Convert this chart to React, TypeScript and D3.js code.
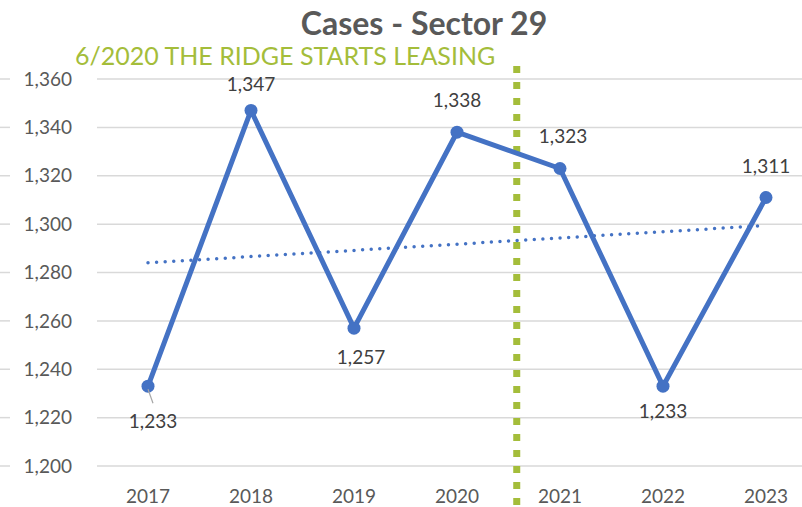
import React from 'react'
import * as d3 from 'd3'

const years = ['2017', '2018', '2019', '2020', '2021', '2022', '2023']
const cases = [1233, 1347, 1257, 1338, 1323, 1233, 1311]
const yTicks = [1200, 1220, 1240, 1260, 1280, 1300, 1320, 1340, 1360]
const title = 'Cases - Sector 29'
const eventLabel = '6/2020 THE RIDGE STARTS LEASING'
// event sits a little past the middle of the 2020 category
const eventIndex = 3.58
// where each data label goes relative to its point
const labelPlace = [
  { dx: 5, dy: 42, leader: true },
  { dx: 0, dy: -19 },
  { dx: 7, dy: 36 },
  { dx: 0, dy: -25 },
  { dx: 3, dy: -25 },
  { dx: 0, dy: 32 },
  { dx: 0, dy: -25 }
]

const W = 802
const H = 507
const font = 'Lato, "Open Sans", sans-serif'
const blue = '#4472c4'
const green = '#a4bd3a'
const grey = '#595959'

export default function App () {
  const x = d3.scaleBand<string>().domain(years).range([96.5, 817.5]).padding(0)
  const cx = (i: number) => (x(years[0]) as number) + x.bandwidth() * (i + 0.5)
  const y = d3.scaleLinear().domain([1200, 1360]).range([466, 79])

  // linear trend line through the yearly values
  const n = cases.length
  const mx = d3.mean(cases.map((_, i) => i)) as number
  const my = d3.mean(cases) as number
  const slope = d3.sum(cases, (v, i) => (i - mx) * (v - my)) / d3.sum(cases, (_, i) => (i - mx) ** 2)
  const trend = [0, n - 1].map(i => [cx(i), y(my + slope * (i - mx))] as [number, number])

  const line = d3.line<number>().x((_, i) => cx(i)).y(d => y(d))
  const fmt = d3.format(',')

  return (
    <svg width={W} height={H} style={{ position: 'absolute', left: 0, top: 0, background: '#fff' }} fontFamily={font}>
      {yTicks.map(t => (
        <g key={t}>
          <line x1={0} x2={10} y1={y(t)} y2={y(t)} stroke='#d9d9d9' strokeWidth={1.5} />
          <line x1={97} x2={W} y1={y(t)} y2={y(t)} stroke='#d9d9d9' strokeWidth={1.5} />
          <text x={72} y={y(t)} dy='0.35em' textAnchor='end' fontSize={19} fill={grey}>{fmt(t)}</text>
        </g>
      ))}
      {years.map((yr, i) => (
        <text key={yr} x={cx(i)} y={503} textAnchor='middle' fontSize={19} fill={grey}>{yr}</text>
      ))}

      <line x1={cx(eventIndex)} x2={cx(eventIndex)} y1={66} y2={H} stroke={green} strokeWidth={7} strokeDasharray='7 9' />

      <line x1={trend[0][0]} y1={trend[0][1]} x2={trend[1][0]} y2={trend[1][1]}
        stroke={blue} strokeWidth={3.5} strokeDasharray='0 8.6' strokeLinecap='round' />

      <path d={line(cases) as string} fill='none' stroke={blue} strokeWidth={5} strokeLinejoin='round' />
      {cases.map((v, i) => (
        <circle key={i} cx={cx(i)} cy={y(v)} r={6.5} fill={blue} />
      ))}

      {cases.map((v, i) => {
        const p = labelPlace[i]
        return (
          <g key={i}>
            {p.leader && (
              <line x1={cx(i)} y1={y(v) + 3} x2={cx(i) + 5} y2={y(v) + 17} stroke='#a6a6a6' strokeWidth={1.2} />
            )}
            <text x={cx(i) + p.dx} y={y(v) + p.dy} textAnchor='middle' fontSize={19} fill='#404040'>{fmt(v)}</text>
          </g>
        )
      })}

      <text x={424} y={35} textAnchor='middle' fontSize={32} fontWeight='bold' fill={grey}>{title}</text>
      <text x={75} y={65} fontSize={25} fill={green}>{eventLabel}</text>
    </svg>
  )
}
